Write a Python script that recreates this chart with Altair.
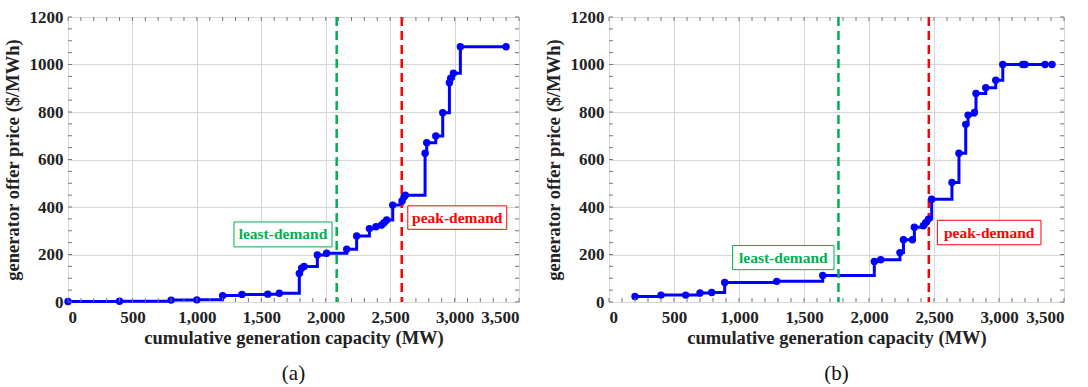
import altair as alt
import pandas as pd

# ---------------- data ----------------
a_cap = [0, 400, 800, 1000, 1200, 1350, 1550, 1640, 1795, 1813, 1832, 1935, 2007, 2163,
         2240, 2339, 2390, 2434, 2452, 2473, 2520, 2592, 2608, 2618, 2771, 2784, 2854,
         2908, 2960, 2970, 2991, 3045, 3400]
a_price = [2, 3, 8, 9, 27, 32, 33, 37, 120, 142, 150, 198, 205, 222,
           278, 309, 317, 324, 334, 345, 408, 425, 443, 450, 626, 671, 699,
           797, 923, 942, 963, 1075, 1075]

b_cap = [200, 400, 590, 700, 790, 890, 1290, 1644, 2041, 2090, 2238, 2265, 2334, 2349,
         2418, 2436, 2457, 2482, 2638, 2692, 2744, 2762, 2811, 2823, 2898, 2975, 3029,
         3182, 3200, 3354, 3408]
b_price = [23, 29, 29, 38, 40, 82, 87, 112, 171, 178, 208, 262, 262, 315,
           321, 334, 349, 433, 503, 626, 748, 787, 798, 878, 902, 934, 1000,
           1000, 1000, 1000, 1000]

a_least, a_peak = 2085, 2590
b_least, b_peak = 1765, 2460

# annotation boxes (data units): x0, x1, y0, y1
a_least_box = [1288, 2049, 232, 337]
a_peak_box = [2637, 3405, 306, 405]
b_least_box = [951, 1731, 136, 238]
b_peak_box = [2526, 3323, 241, 344]

x_ticks = list(range(0, 3501, 500))
y_ticks = list(range(0, 1201, 200))
x_minor = list(range(0, 3501, 100))
y_minor = list(range(0, 1201, 50))

FONT = "'Liberation Serif', 'Times New Roman', Times, serif"
BLUE = "#0000ff"
GREEN = "#00b050"
RED = "#ff0000"
H = 285


def panel(cap, price, least, peak, lbox, pbox, W, caption):
    df = pd.DataFrame({"cap": cap, "price": price})
    xs = alt.Scale(domain=[0, 3500], nice=False, zero=False)
    ys = alt.Scale(domain=[0, 1200], nice=False)
    xax = alt.Axis(values=x_ticks, format=",d", grid=True, gridColor="#d6d6d6",
                   ticks=False, domain=False, labelFont=FONT, labelFontSize=17,
                   labelFontWeight="bold", labelColor="#222", labelPadding=7,
                   title="cumulative generation capacity (MW)", titleFont=FONT,
                   titleFontSize=18.5, titleFontWeight="bold", titleColor="#222",
                   titlePadding=3)
    yax = alt.Axis(values=y_ticks, format="d", grid=True, gridColor="#d6d6d6",
                   ticks=False, domain=False, labelFont=FONT, labelFontSize=17,
                   labelFontWeight="bold", labelColor="#222", labelPadding=5,
                   title="generator offer price ($/MWh)", titleFont=FONT,
                   titleFontSize=18.5, titleFontWeight="bold", titleColor="#222",
                   titlePadding=7)
    base = alt.Chart(df)
    line = base.mark_line(interpolate="step-after", color=BLUE, strokeWidth=3).encode(
        x=alt.X("cap:Q", scale=xs, axis=xax),
        y=alt.Y("price:Q", scale=ys, axis=yax),
    )
    pts = base.mark_circle(size=55, color=BLUE, opacity=1).encode(
        x=alt.X("cap:Q", scale=xs), y=alt.Y("price:Q", scale=ys))

    rules_df = pd.DataFrame({"v": [least, peak], "c": [GREEN, RED]})
    rules = alt.Chart(rules_df).mark_rule(strokeDash=[9, 5], strokeWidth=2.5).encode(
        x=alt.X("v:Q", scale=xs), color=alt.Color("c:N", scale=None))

    box_df = pd.DataFrame({
        "x0": [lbox[0], pbox[0]], "x1": [lbox[1], pbox[1]],
        "y0": [lbox[2], pbox[2]], "y1": [lbox[3], pbox[3]],
        "c": [GREEN, RED], "t": ["least-demand", "peak-demand"],
    })
    box_df["xm"] = (box_df["x0"] + box_df["x1"]) / 2
    box_df["ym"] = (box_df["y0"] + box_df["y1"]) / 2
    boxes = alt.Chart(box_df).mark_rect(fill="white", strokeWidth=1).encode(
        x=alt.X("x0:Q", scale=xs), x2="x1", y=alt.Y("y0:Q", scale=ys), y2="y1",
        stroke=alt.Color("c:N", scale=None))
    texts = alt.Chart(box_df).mark_text(font=FONT, fontSize=15.5, fontWeight="bold").encode(
        x=alt.X("xm:Q", scale=xs), y=alt.Y("ym:Q", scale=ys), text="t:N",
        color=alt.Color("c:N", scale=None))

    xm = pd.DataFrame({"v": x_minor})
    ym = pd.DataFrame({"v": y_minor})
    tick_col = "#777"
    tb = alt.Chart(xm).mark_rule(color=tick_col, strokeWidth=1).encode(
        x=alt.X("v:Q", scale=xs), y=alt.value(H - 4), y2=alt.value(H))
    tt = alt.Chart(xm).mark_rule(color=tick_col, strokeWidth=1).encode(
        x=alt.X("v:Q", scale=xs), y=alt.value(0), y2=alt.value(4))
    tl = alt.Chart(ym).mark_rule(color=tick_col, strokeWidth=1).encode(
        y=alt.Y("v:Q", scale=ys), x=alt.value(0), x2=alt.value(4))
    tr = alt.Chart(ym).mark_rule(color=tick_col, strokeWidth=1).encode(
        y=alt.Y("v:Q", scale=ys), x=alt.value(W - 4), x2=alt.value(W))

    return alt.layer(line, boxes, texts, rules, pts, tb, tt, tl, tr).properties(
        width=W, height=H,
        title=alt.TitleParams(caption, orient="bottom", font=FONT, fontSize=21,
                              fontWeight="normal", color="#111", offset=16),
    )


pa = panel(a_cap, a_price, a_least, a_peak, a_least_box, a_peak_box, 451, "(a)")
pb = panel(b_cap, b_price, b_least, b_peak, b_least_box, b_peak_box, 455, "(b)")

chart = alt.hconcat(pa, pb, spacing=23).properties(
    padding={"left": 2, "top": 7, "right": 5, "bottom": 0}
).configure_view(stroke="#888", strokeWidth=1).configure(background="white")

chart.save("out.html", embed_options={"renderer": "svg", "actions": False})
